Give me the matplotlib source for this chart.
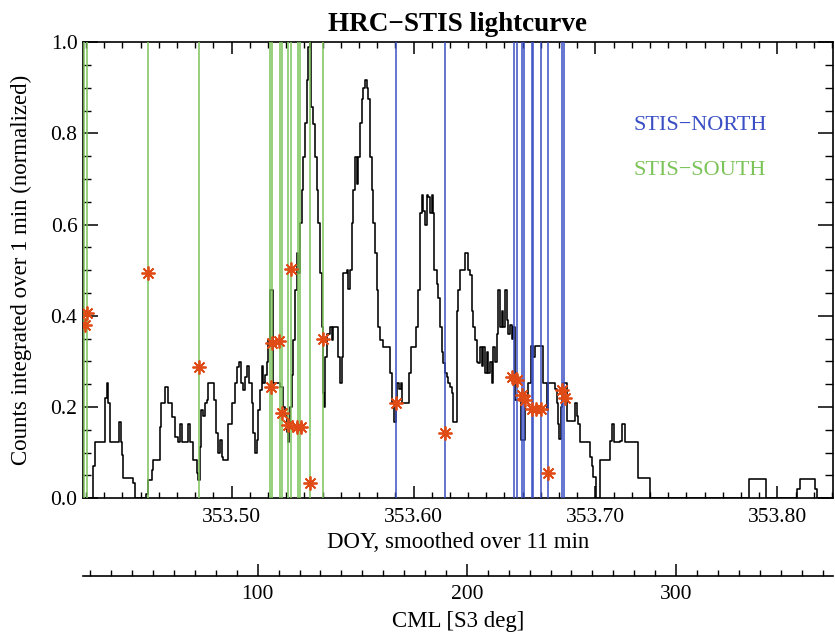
import matplotlib
matplotlib.use('Agg')
import matplotlib.pyplot as plt
from matplotlib.ticker import MultipleLocator, FixedLocator, FormatStrFormatter

plt.rcParams['font.family'] = ['Liberation Serif', 'DejaVu Serif']

# ---- light curve: DOY (step start) and normalized counts ----
doy = [353.4183, 353.4238, 353.4249, 353.4303, 353.4313, 353.4322, 353.4331, 353.4382, 353.4391, 353.4395,
       353.4404, 353.4459, 353.4468, 353.4527, 353.4542, 353.4560, 353.4569, 353.4606, 353.4610, 353.4634,
       353.4648, 353.4670, 353.4688, 353.4706, 353.4716, 353.4725, 353.4761, 353.4771, 353.4789, 353.4808,
       353.4816, 353.4826, 353.4831, 353.4844, 353.4853, 353.4863, 353.4871, 353.4903, 353.4914, 353.4926,
       353.4936, 353.4945, 353.4954, 353.4978, 353.5000, 353.5018, 353.5031, 353.5042, 353.5049, 353.5060,
       353.5073, 353.5086, 353.5097, 353.5110, 353.5119, 353.5128, 353.5137, 353.5146, 353.5156, 353.5165,
       353.5174, 353.5183, 353.5192, 353.5201, 353.5211, 353.5225, 353.5266, 353.5284, 353.5293, 353.5302,
       353.5311, 353.5317, 353.5321, 353.5330, 353.5339, 353.5348, 353.5357, 353.5366, 353.5375, 353.5385,
       353.5394, 353.5403, 353.5412, 353.5421, 353.5430, 353.5434, 353.5445, 353.5458, 353.5467, 353.5476,
       353.5485, 353.5495, 353.5504, 353.5507, 353.5513, 353.5522, 353.5540, 353.5550, 353.5559, 353.5586,
       353.5595, 353.5605, 353.5614, 353.5632, 353.5641, 353.5650, 353.5660, 353.5668, 353.5678, 353.5687,
       353.5696, 353.5705, 353.5715, 353.5723, 353.5733, 353.5742, 353.5751, 353.5760, 353.5770, 353.5778,
       353.5788, 353.5797, 353.5806, 353.5815, 353.5833, 353.5870, 353.5880, 353.5892, 353.5903, 353.5910,
       353.5921, 353.5929, 353.5935, 353.5976, 353.5984, 353.6013, 353.6026, 353.6035, 353.6045, 353.6053,
       353.6063, 353.6072, 353.6081, 353.6090, 353.6100, 353.6108, 353.6114, 353.6127, 353.6136, 353.6145,
       353.6155, 353.6163, 353.6173, 353.6182, 353.6191, 353.6200, 353.6210, 353.6218, 353.6237, 353.6246,
       353.6255, 353.6283, 353.6301, 353.6310, 353.6319, 353.6328, 353.6338, 353.6347, 353.6356, 353.6365,
       353.6374, 353.6383, 353.6393, 353.6402, 353.6411, 353.6420, 353.6429, 353.6438, 353.6448, 353.6457,
       353.6466, 353.6475, 353.6484, 353.6493, 353.6502, 353.6512, 353.6521, 353.6530, 353.6539, 353.6548,
       353.6557, 353.6590, 353.6612, 353.6630, 353.6645, 353.6658, 353.6667, 353.6713, 353.6732, 353.6741,
       353.6777, 353.6787, 353.6795, 353.6801, 353.6809, 353.6814, 353.6823, 353.6842, 353.6887, 353.6897,
       353.6905, 353.6915, 353.6970, 353.6979, 353.6988, 353.7003, 353.7025, 353.7080, 353.7091, 353.7102,
       353.7135, 353.7146, 353.7162, 353.7235, 353.7300, 353.7846, 353.7937, 353.8106, 353.8124, 353.8207,
       353.8216, 353.8306]
counts = [0.0, 0.07, 0.124, 0.219, 0.252, 0.208, 0.124, 0.168, 0.124, 0.095,
          0.045, 0.033, 0.0, 0.01, 0.04, 0.062, 0.084, 0.157, 0.208, 0.245,
          0.208, 0.178, 0.135, 0.124, 0.164, 0.124, 0.164, 0.124, 0.084, 0.055,
          0.04, 0.113, 0.193, 0.18, 0.208, 0.215, 0.252, 0.215, 0.143, 0.099,
          0.128, 0.091, 0.084, 0.164, 0.208, 0.252, 0.289, 0.30, 0.252, 0.237,
          0.267, 0.29, 0.252, 0.208, 0.143, 0.099, 0.128, 0.193, 0.237, 0.29,
          0.252, 0.27, 0.30, 0.347, 0.457, 0.252, 0.245, 0.2, 0.18, 0.145,
          0.124, 0.164, 0.2, 0.27, 0.347, 0.457, 0.537, 0.493, 0.603, 0.676,
          0.749, 0.822, 0.917, 0.99, 1.0, 0.859, 0.82, 0.749, 0.676, 0.603,
          0.493, 0.376, 0.23, 0.2, 0.31, 0.36, 0.376, 0.347, 0.376, 0.31,
          0.252, 0.31, 0.493, 0.5, 0.46, 0.5, 0.603, 0.676, 0.749, 0.69,
          0.749, 0.822, 0.875, 0.9, 0.917, 0.9, 0.875, 0.749, 0.676, 0.603,
          0.537, 0.457, 0.376, 0.347, 0.332, 0.274, 0.21, 0.168, 0.208, 0.252,
          0.24, 0.252, 0.208, 0.274, 0.332, 0.376, 0.457, 0.625, 0.665, 0.63,
          0.6, 0.665, 0.66, 0.625, 0.665, 0.625, 0.5, 0.47, 0.44, 0.376,
          0.32, 0.296, 0.274, 0.265, 0.252, 0.245, 0.23, 0.168, 0.41, 0.457,
          0.5, 0.537, 0.5, 0.49, 0.41, 0.376, 0.347, 0.30, 0.296, 0.332,
          0.29, 0.332, 0.274, 0.32, 0.274, 0.30, 0.252, 0.332, 0.30, 0.36,
          0.457, 0.376, 0.41, 0.376, 0.457, 0.39, 0.36, 0.38, 0.35, 0.376,
          0.216, 0.128, 0.216, 0.252, 0.333, 0.31, 0.333, 0.252, 0.194, 0.252,
          0.24, 0.21, 0.164, 0.13, 0.2, 0.23, 0.252, 0.17, 0.208, 0.18,
          0.164, 0.124, 0.09, 0.07, 0.047, 0.0, 0.084, 0.125, 0.164, 0.124,
          0.125, 0.164, 0.124, 0.045, 0.0, 0.042, 0.0, 0.02, 0.042, 0.02,
          0.0, 0.0]

# ---- STIS exposure times (DOY) ----
south_doy = [353.4188, 353.4206, 353.4538, 353.4822, 353.5211, 353.5224, 353.5266, 353.5275,
             353.5311, 353.5328, 353.5363, 353.5378, 353.5433, 353.5504]
north_doy = [353.5903, 353.6173, 353.6554, 353.6567, 353.6594, 353.6607, 353.6649, 353.6658,
             353.6699, 353.6741, 353.6817, 353.6827]

# ---- asterisk points ----
star_doy = [353.4194, 353.4206, 353.4538, 353.4822, 353.5214, 353.5220, 353.5262, 353.5275,
            353.5311, 353.5324, 353.5357, 353.5379, 353.5433, 353.5504, 353.5903, 353.6173,
            353.6544, 353.6567, 353.6594, 353.6615, 353.6651, 353.6676, 353.6700, 353.6741,
            353.6814, 353.6832]
star_val = [0.380, 0.406, 0.493, 0.289, 0.245, 0.340, 0.345, 0.188,
            0.161, 0.502, 0.156, 0.156, 0.034, 0.349, 0.208, 0.143,
            0.267, 0.259, 0.226, 0.216, 0.195, 0.195, 0.195, 0.055,
            0.237, 0.219]

cml_ticks = [100, 200, 300]
doy_lim = (353.4183, 353.8306)
cml_lim = (16.5, 375.0)
y_lim = (0.0, 1.0)

GREEN = '#7cc45a'
BLUE = '#3a4fc4'
STAR = '#e04a14'

fig = plt.figure(figsize=(8.35, 6.4), dpi=100)
ax = fig.add_axes([83/835, 1 - 498.3/640, 750/835, 456/640])

ax.plot(doy, counts, drawstyle='steps-post', color='black', lw=1.15, zorder=2)
for d in south_doy:
    ax.axvline(d, color=GREEN, lw=1.1, zorder=3)
for d in north_doy:
    ax.axvline(d, color=BLUE, lw=1.1, zorder=3)
ax.plot(star_doy, star_val, ls='none', marker=(8, 2, 0), ms=10, mew=1.3,
        color=STAR, zorder=4)

ax.set_xlim(*doy_lim)
ax.set_ylim(*y_lim)

ax.xaxis.set_major_locator(MultipleLocator(0.1))
ax.xaxis.set_minor_locator(MultipleLocator(0.01))
ax.xaxis.set_major_formatter(FormatStrFormatter('%.2f'))
ax.yaxis.set_major_locator(MultipleLocator(0.2))
ax.yaxis.set_minor_locator(MultipleLocator(0.05))
ax.yaxis.set_major_formatter(FormatStrFormatter('%.1f'))

for s in ax.spines.values():
    s.set_linewidth(1.2)
ax.tick_params(which='both', direction='in', top=True, right=True, labelsize=15.5)
ax.tick_params(axis='x', which='major', length=8.6, width=1.1, pad=7)
ax.tick_params(axis='x', which='minor', length=4.3, width=1.0)
ax.tick_params(axis='y', which='major', length=10.5, width=1.1, pad=4)
ax.tick_params(axis='y', which='minor', length=5.5, width=1.0)

ax.set_title('HRC\u2212STIS lightcurve', fontsize=19.5, fontweight='bold', pad=8)
ax.set_xlabel('DOY, smoothed over 11 min', fontsize=16.5)
ax.xaxis.set_label_coords(0.5, -0.075)
ax.set_ylabel('Counts integrated over 1 min (normalized)', fontsize=16.5)
ax.yaxis.set_label_coords(-0.068, 0.5)

ax.text(0.7337, 0.8165, 'STIS\u2212NORTH', color=BLUE, fontsize=16,
        transform=ax.transAxes, ha='left', va='center')
ax.text(0.7337, 0.718, 'STIS\u2212SOUTH', color=GREEN, fontsize=16,
        transform=ax.transAxes, ha='left', va='center')

# ---- CML axis below ----
def to_cml(x):
    return cml_lim[0] + (x - doy_lim[0]) * (cml_lim[1] - cml_lim[0]) / (doy_lim[1] - doy_lim[0])

def to_doy(c):
    return doy_lim[0] + (c - cml_lim[0]) * (doy_lim[1] - doy_lim[0]) / (cml_lim[1] - cml_lim[0])

sec = ax.secondary_xaxis(-(575.7 - 498.3) / 456, functions=(to_cml, to_doy))
sec.xaxis.set_major_locator(FixedLocator(cml_ticks))
sec.xaxis.set_minor_locator(FixedLocator(list(range(20, 375, 10))))
sec.xaxis.set_major_formatter(FormatStrFormatter('%d'))
sec.spines['bottom'].set_linewidth(1.2)
sec.tick_params(which='both', direction='in', labelsize=15.5)
sec.tick_params(which='major', length=9, width=1.1, pad=7)
sec.tick_params(which='minor', length=4.5, width=1.0)
sec.set_xlabel('CML [S3 deg]', fontsize=16.5, labelpad=5)

fig.savefig('out.png', dpi=100)
